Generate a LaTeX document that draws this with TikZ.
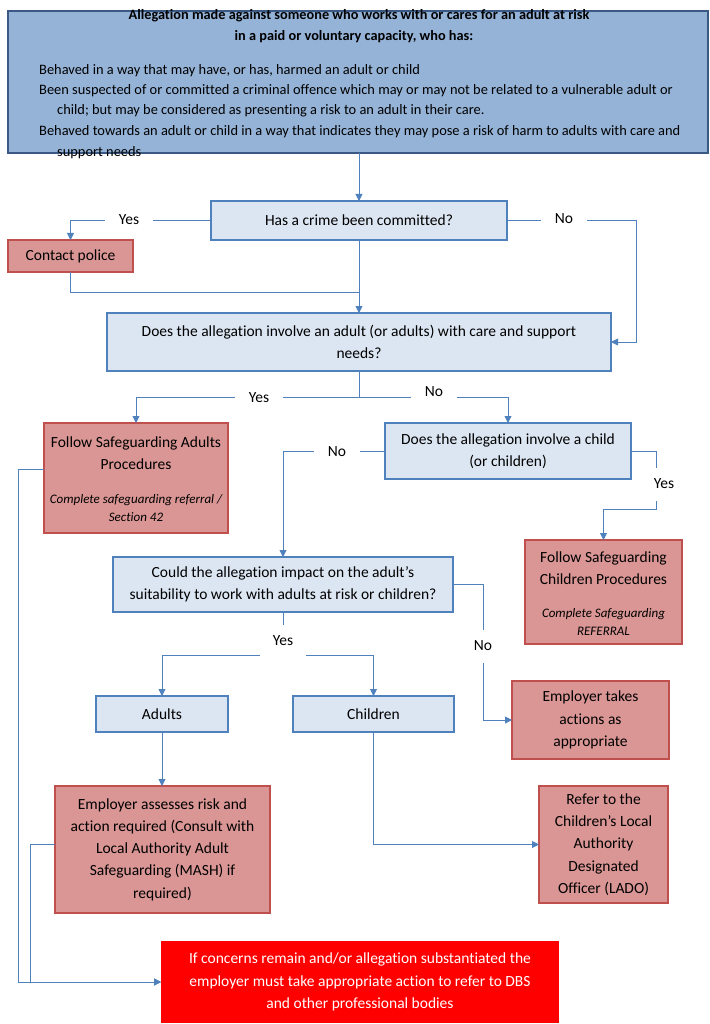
\documentclass[tikz,border=0pt]{standalone}
\usepackage{fontspec}
\setmainfont{Carlito}[Ligatures=NoCommon]
\usetikzlibrary{arrows.meta}
\definecolor{topfill}{HTML}{95B3D7}
\definecolor{topline}{HTML}{3A5A85}
\definecolor{bfill}{HTML}{DCE6F2}
\definecolor{bline}{HTML}{4F81BD}
\definecolor{rfill}{HTML}{D99694}
\definecolor{rline}{HTML}{C0504D}
\definecolor{conn}{HTML}{4F81BD}
\definecolor{finalred}{HTML}{FF0000}
\begin{document}
\begin{tikzpicture}[x=1pt,y=-1pt,
  box/.style={rectangle, anchor=north west, line width=2.2pt, align=center, inner sep=0pt, outer sep=0pt,
    font=\fontsize{15.5}{22.3}\selectfont},
  bluebox/.style={box, draw=bline, fill=bfill},
  redbox/.style={box, draw=rline, fill=rfill},
  topbox/.style={box, draw=topline, fill=topfill, line width=2.6pt},
  finalbox/.style={box, fill=finalred, text=white},
  txt/.style={align=center, inner sep=0pt, font=\fontsize{15.5}{22.3}\selectfont},
  itxt/.style={align=center, inner sep=0pt, font=\itshape\fontsize{13}{18.5}\selectfont},
  toptitle/.style={anchor=base, inner sep=0pt, font=\bfseries\fontsize{14.3}{20.7}\selectfont},
  topline/.style={anchor=base west, inner sep=0pt, font=\fontsize{14.4}{20.7}\selectfont},
  ln/.style={draw=conn, line width=0.9pt},
  arr/.style={ln, -{Triangle[length=7pt,width=7pt]}},
  hl/.style={fill=white, inner xsep=14pt, inner ysep=2pt, font=\fontsize{15.5}{18}\selectfont},
  vl/.style={fill=white, inner xsep=3pt, inner ysep=0pt, minimum height=33pt, font=\fontsize{15.5}{18}\selectfont}
]
\useasboundingbox (0,0) rectangle (709,1024);

% boxes
\node[topbox, minimum width=700pt, minimum height=142pt] (top) at (8,11) {};
\node[toptitle] (tt1) at (359,20) {Allegation made against someone who works with or cares for an adult at risk};
\node[toptitle] (tt2) at (354,41) {in a paid or voluntary capacity, who has:};
\node[topline] (tl1) at (39,75) {Behaved in a way that may have, or has, harmed an adult or child};
\node[topline] (tl2) at (39,95) {Been suspected of or committed a criminal offence which may or may not be related to a vulnerable adult or};
\node[topline] (tl3) at (57,115) {child; but may be considered as presenting a risk to an adult in their care.};
\node[topline] (tl4) at (39,136) {Behaved towards an adult or child in a way that indicates they may pose a risk of harm to adults with care and};
\node[topline] (tl5) at (57,157) {support needs};

\node[bluebox, minimum width=296pt, minimum height=39pt] (crime) at (211,201) {Has a crime been committed?};
\node[redbox, minimum width=125pt, minimum height=32pt] (police) at (8,240) {Contact police};
\node[bluebox, minimum width=504pt, minimum height=58pt] (adult) at (107,313)
  {Does the allegation involve an adult (or adults) with care and support\\needs?};

\node[redbox, minimum width=184pt, minimum height=110pt] (follow) at (44,423) {};
\node[txt] (followt) at (136,453) {Follow Safeguarding Adults\\Procedures};
\node[itxt] (followi) at (136,508) {Complete safeguarding referral /\\Section 42};

\node[bluebox, minimum width=246pt, minimum height=56pt] (child) at (385,423)
  {Does the allegation involve a child\\(or children)};

\node[redbox, minimum width=157pt, minimum height=104pt] (childproc) at (525,540) {};
\node[txt] (childproct) at (603.5,568) {Follow Safeguarding\\Children Procedures};
\node[itxt] (childproci) at (603.5,622) {Complete Safeguarding\\REFERRAL};

\node[bluebox, minimum width=340pt, minimum height=55pt] (could) at (113,557)
  {Could the allegation impact on the adult’s\\suitability to work with adults at risk or children?};

\node[redbox, minimum width=157pt, minimum height=78pt] (emptakes) at (512,681)
  {Employer takes\\actions as\\appropriate};

\node[bluebox, minimum width=132pt, minimum height=36pt] (adultsb) at (96,696) {Adults};
\node[bluebox, minimum width=161pt, minimum height=36pt] (childrenb) at (293,696) {Children};

\node[redbox, minimum width=215pt, minimum height=127pt] (assess) at (55,786)
  {Employer assesses risk and\\action required (Consult with\\Local Authority Adult\\Safeguarding (MASH) if\\required)};
\node[redbox, minimum width=129pt, minimum height=117pt] (lado) at (539,786)
  {Refer to the\\Children’s Local\\Authority\\Designated\\Officer (LADO)};

\node[finalbox, minimum width=398pt, minimum height=82pt] (final) at (161,941)
  {If concerns remain and/or allegation substantiated the\\employer must take appropriate action to refer to DBS\\and other professional bodies};

% junctions
\coordinate (j1) at (crime.south |- 0,292);
\coordinate (j2) at (adult.south |- 0,397);
\coordinate (c1) at (656,509);
\coordinate (j3) at (could.south |- 0,655);

% connectors
\draw[arr] (top.south -| crime.north) -- (crime.north);
\draw[arr] (crime.west) -| (police.north);
\draw[arr] (crime.east) -- ++(129,0) |- (adult.east);
\draw[ln] (police.south) |- (j1);
\draw[arr] (crime.south) -- (crime.south |- adult.north);
\draw[ln] (adult.south) -- (j2);
\draw[arr] (j2) -| (follow.north);
\draw[arr] (j2) -| (child.north);
\draw[arr] (child.west) -| (could.north);
\draw[arr] (child.east) -| (c1) -| (childproc.north);
\draw[arr] (could.east) -- ++(30,0) |- (emptakes.west);
\draw[ln] (could.south) -- (j3);
\draw[arr] (j3) -| (adultsb.north);
\draw[arr] (j3) -| (childrenb.north);
\draw[arr] (adultsb.south) -- (adultsb.south |- assess.north);
\draw[arr] (childrenb.south) |- (lado.west);
\draw[arr] (follow.west |- 0,469) -- (18,469) |- (final.west);
\draw[arr] (assess.west |- 0,844) -- (30,844) |- (final.west);

% labels
\node[hl] (yes1) at (129,220) {Yes};
\node[hl] (no1) at (564,219) {No};
\node[hl] (yes2) at (259,398) {Yes};
\node[hl] (no2) at (434,392) {No};
\node[hl] (no3) at (337,452) {No};
\node[vl] (yes3) at (664,484) {Yes};
\node[vl] (no4) at (483,646) {No};
\node[vl, inner xsep=13pt, minimum height=32pt] (yes4) at (283,641) {Yes};
\end{tikzpicture}
\end{document}
